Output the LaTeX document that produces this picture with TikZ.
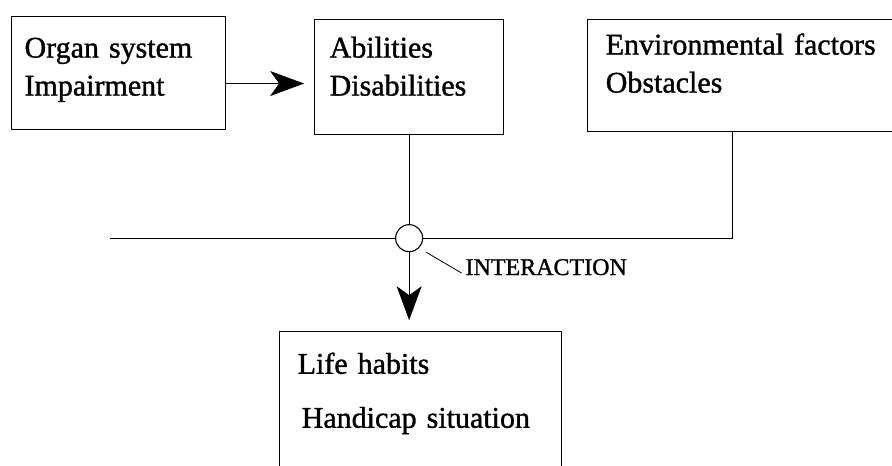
\documentclass[tikz,border=0pt]{standalone}
\usepackage{fontspec}
\setmainfont{Liberation Serif}[FakeBold=1.2]
\usetikzlibrary{arrows.meta,positioning}

\begin{document}
\begin{tikzpicture}[x=1pt,y=-1pt,line width=1.1pt,
	bigarrow/.style={-{Stealth[length=34pt,width=25pt,inset=9pt]}},
	box/.style={shape=rectangle,draw,align=left,inner ysep=0pt,font=\fontsize{30}{38}\selectfont},
	tag/.style={inner sep=0pt,font=\fontsize{24}{28}\selectfont}]
	\useasboundingbox (0,0) rectangle (892,466);
	% create the nodes
	\node (organ)[box, anchor=north west, inner xsep=13pt, text width=188pt, text height=41pt, text depth=72pt] at (11,16) {Organ system\\Impairment};
	\node (abil)[box, right=88pt of organ.north east, anchor=north west, yshift=-3pt, inner xsep=15pt, text width=159pt, text height=38pt, text depth=77pt] {Abilities\\Disabilities};
	\node (env)[box, right=83pt of abil.north east, anchor=north west, inner xsep=18pt, text width=294pt, text height=35pt, text depth=77pt] {Environmental factors\\Obstacles};
	\node (inter)[shape=circle, draw, inner sep=0pt, minimum size=27pt, below=89pt of abil.south] {};
	\node (life)[box, below left=79pt and 130pt of inter.south, anchor=north west, inner xsep=18pt, text width=246pt, text height=42pt, text depth=140pt] {Life habits\\[16pt]\hspace*{4pt}Handicap situation};
	\node (intlabel)[tag, anchor=base west] at (465,275) {INTERACTION};
	\coordinate (arrowstart) at ([yshift=-10.5pt]organ.east);
	\coordinate (envfoot) at ([xshift=145pt]env.south west);
	\coordinate (leftend) at ([xshift=-285pt]inter.west);

	% connect the nodes
	\draw[bigarrow, shorten >=10pt] (arrowstart) -- (arrowstart -| abil.west);
	\draw (abil.south) -- (inter.north);
	\draw (leftend) -- (inter.west);
	\draw (inter.east) -| (envfoot);
	\draw[bigarrow, shorten >=11pt] (inter.south) -- (inter.south |- life.north);
	\draw[line width=0.8pt, shorten <=8pt, shorten >=4pt] (inter.south east) -- (intlabel.base west);
\end{tikzpicture}
\end{document}
